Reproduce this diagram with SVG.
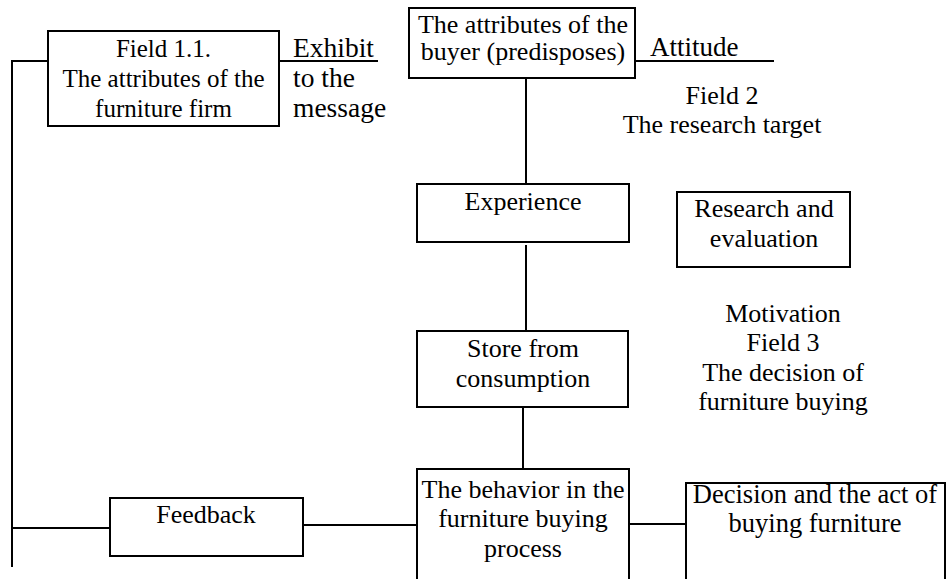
<svg xmlns="http://www.w3.org/2000/svg" width="947" height="579" viewBox="0 0 947 579">
<style>
.box{fill:#fff;stroke:#000;stroke-width:2}
.ln{fill:none;stroke:#000;stroke-width:2}
text{font-family:"Liberation Serif","Times New Roman",Times,"DejaVu Serif",serif;fill:#000;font-size:26px}
.c{text-anchor:middle}
</style>
<rect width="947" height="579" fill="#fff"/>
<g id="connectors">
<path class="ln" d="M12,567 V61 H48"/>
<path class="ln" d="M279,61 H378"/>
<path class="ln" d="M635,61 H774"/>
<path class="ln" d="M526,78 V194"/>
<path class="ln" d="M526,245 V340"/>
<path class="ln" d="M523,404 V481"/>
<path class="ln" d="M12,528 H110"/>
<path class="ln" d="M303,525 H417"/>
<path class="ln" d="M629,524 H686"/>
</g>
<g font-family="Liberation Serif, Times New Roman, serif">
<g id="field11">
<rect class="box" x="48" y="31" width="231" height="95"/>
<text class="c" style="font-size:25px" x="163.5" y="57">Field 1.1.</text>
<text class="c" style="font-size:25px" x="163.5" y="87">The attributes of the</text>
<text class="c" style="font-size:25px" x="163.5" y="117">furniture firm</text>
</g>
<g id="exhibit">
<text style="font-size:27.5px" x="293" y="57">Exhibit</text>
<text style="font-size:27.5px" x="293" y="87">to the</text>
<text style="font-size:27.5px" x="293" y="117">message</text>
</g>
<g id="buyer">
<rect class="box" x="409" y="8" width="226" height="70"/>
<text class="c" x="523" y="33">The attributes of the</text>
<text class="c" x="523" y="60">buyer (predisposes)</text>
</g>
<g id="attitude">
<text style="font-size:27px" x="650" y="56">Attitude</text>
</g>
<g id="field2">
<text class="c" x="722" y="104">Field 2</text>
<text class="c" x="722" y="133">The research target</text>
</g>
<g id="experience">
<rect class="box" x="417" y="184" width="212" height="58"/>
<text class="c" x="523" y="210">Experience</text>
</g>
<g id="research">
<rect class="box" x="677" y="192" width="173" height="75"/>
<text class="c" x="764" y="217">Research and</text>
<text class="c" x="764" y="247">evaluation</text>
</g>
<g id="store">
<rect class="box" x="417" y="331" width="211" height="76"/>
<text class="c" x="523" y="357">Store from</text>
<text class="c" x="523" y="387">consumption</text>
</g>
<g id="field3">
<text class="c" x="783" y="322">Motivation</text>
<text class="c" x="783" y="351">Field 3</text>
<text class="c" x="783" y="381">The decision of</text>
<text class="c" x="783" y="410">furniture buying</text>
</g>
<g id="feedback">
<rect class="box" x="110" y="498" width="193" height="58"/>
<text class="c" x="206" y="523">Feedback</text>
</g>
<g id="behavior">
<rect class="box" x="417" y="469" width="212" height="130"/>
<text class="c" x="523" y="498">The behavior in the</text>
<text class="c" x="523" y="527">furniture buying</text>
<text class="c" x="523" y="557">process</text>
</g>
<g id="decision">
<rect class="box" x="686" y="483" width="259" height="116"/>
<text class="c" style="font-size:26.5px" x="815" y="503">Decision and the act of</text>
<text class="c" style="font-size:26.5px" x="815" y="532">buying furniture</text>
</g>
</g>
</svg>
